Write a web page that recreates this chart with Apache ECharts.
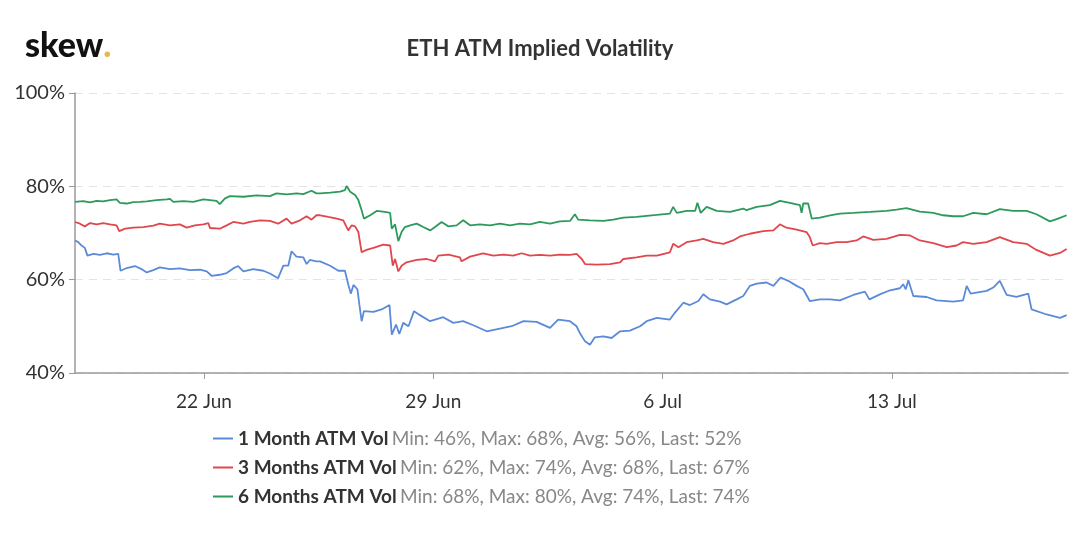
<!DOCTYPE html>
<html>
<head>
<meta charset="utf-8">
<script src="https://cdn.jsdelivr.net/npm/echarts@6/dist/echarts.min.js"></script>
<style>
html,body{margin:0;padding:0;background:#fff;}
#chart{width:1080px;height:543px;}
</style>
</head>
<body>
<div id="chart"></div>
<script>
// Start of the plotted window (UTC); x values are days since this moment
const startDate = '2020-06-18T01:30:00Z';
const endDate = '2020-07-18T09:00:00Z';
const tickDates = ['2020-06-22T00:00:00Z', '2020-06-29T00:00:00Z', '2020-07-06T00:00:00Z', '2020-07-13T00:00:00Z'];
const tickLabels = ['22 Jun', '29 Jun', '6 Jul', '13 Jul'];
const yTicks = [40, 60, 80, 100];

const seriesNames = ['1 Month ATM Vol', '3 Months ATM Vol', '6 Months ATM Vol'];
const seriesStats = [
  'Min: 46%, Max: 68%, Avg: 56%, Last: 52%',
  'Min: 62%, Max: 74%, Avg: 68%, Last: 67%',
  'Min: 68%, Max: 80%, Avg: 74%, Last: 74%'
];

// [days since start, vol %]
const vol1m = [
  [0.00,68.40],[0.10,68.04],[0.20,67.32],[0.30,66.81],[0.38,65.15],[0.56,65.51],[0.76,65.30],[0.97,65.66],[1.17,65.37],[1.32,65.51],
  [1.39,61.91],[1.58,62.49],[1.83,62.92],[2.03,62.27],[2.19,61.55],[2.39,62.05],[2.59,62.63],[2.90,62.27],[3.20,62.41],[3.51,62.05],
  [3.82,62.13],[4.02,61.77],[4.17,60.83],[4.42,61.05],[4.63,61.41],[4.83,62.41],[4.98,62.92],[5.14,61.77],[5.44,62.27],[5.75,61.91],
  [5.95,61.33],[6.20,60.32],[6.36,62.99],[6.51,62.99],[6.61,66.09],[6.76,64.94],[6.97,64.79],[7.07,63.35],[7.17,64.22],[7.37,63.93],
  [7.48,63.93],[7.79,62.99],[8.04,61.91],[8.24,61.91],[8.34,59.03],[8.42,57.01],[8.50,58.88],[8.62,57.95],[8.68,54.70],[8.75,51.10],
  [8.82,53.26],[9.11,53.12],[9.36,53.62],[9.60,54.56],[9.67,48.22],[9.80,50.38],[9.90,48.36],[10.02,50.74],[10.18,50.02],[10.35,53.26],
  [10.53,52.40],[10.84,51.10],[11.24,51.96],[11.55,50.74],[11.85,51.10],[12.16,50.23],[12.57,48.94],[12.97,49.51],[13.33,50.02],[13.69,51.10],
  [14.09,50.95],[14.50,49.66],[14.75,51.46],[15.11,51.10],[15.31,50.02],[15.41,48.58],[15.57,46.78],[15.72,46.05],[15.87,47.64],[16.13,47.86],
  [16.38,47.50],[16.64,48.94],[16.94,49.08],[17.25,50.02],[17.45,51.10],[17.76,51.82],[18.16,51.46],[18.31,52.90],[18.57,55.06],[18.77,54.56],
  [19.03,55.42],[19.18,56.86],[19.38,55.78],[19.69,55.28],[19.89,54.70],[20.20,55.78],[20.40,56.50],[20.60,58.67],[20.81,59.17],[21.11,59.39],
  [21.32,58.67],[21.54,60.47],[21.77,59.75],[22.03,58.67],[22.23,57.95],[22.43,55.42],[22.74,55.78],[23.05,55.78],[23.35,55.57],[23.76,56.72],
  [24.11,57.44],[24.25,55.78],[24.57,56.86],[24.88,57.73],[25.18,58.16],[25.28,59.03],[25.36,57.95],[25.44,59.89],[25.59,56.50],[26.00,56.29],
  [26.30,55.57],[26.81,55.28],[27.11,55.57],[27.22,58.67],[27.34,57.01],[27.83,57.59],[28.03,58.31],[28.23,59.75],[28.44,56.72],[28.74,56.29],
  [29.10,57.01],[29.20,53.62],[29.66,52.54],[30.07,51.82],[30.27,52.40]
];

const vol3m = [
  [0.00,72.36],[0.15,72.00],[0.30,71.42],[0.46,72.14],[0.66,71.86],[0.86,72.14],[1.07,71.86],[1.27,71.64],[1.35,70.42],[1.53,70.92],
  [1.78,71.14],[2.09,71.28],[2.39,71.57],[2.59,72.00],[2.90,71.64],[3.20,71.86],[3.41,71.14],[3.66,71.64],[3.92,71.86],[4.07,72.14],
  [4.12,71.07],[4.42,70.92],[4.63,71.64],[4.83,72.36],[5.14,72.00],[5.34,72.36],[5.65,72.72],[5.95,72.58],[6.20,72.00],[6.46,73.08],
  [6.61,72.00],[6.87,72.72],[7.07,73.59],[7.22,72.86],[7.37,73.80],[7.48,73.80],[7.73,73.44],[7.99,73.08],[8.19,72.72],[8.34,70.56],
  [8.45,71.64],[8.55,71.42],[8.65,70.20],[8.75,65.87],[8.90,66.38],[9.11,66.81],[9.41,67.53],[9.62,67.32],[9.70,62.99],[9.77,64.43],
  [9.87,61.77],[9.97,62.99],[10.12,63.71],[10.43,64.22],[10.74,64.43],[10.99,63.93],[11.09,65.15],[11.40,65.37],[11.75,64.79],[11.80,63.93],
  [12.06,64.94],[12.46,65.66],[12.77,65.15],[13.08,65.37],[13.38,65.15],[13.63,65.66],[13.89,65.15],[14.19,65.30],[14.50,65.15],[14.80,65.37],
  [15.11,65.30],[15.31,65.51],[15.47,64.43],[15.57,63.35],[15.92,63.21],[16.33,63.35],[16.64,63.71],[16.74,64.43],[17.14,64.79],[17.45,65.15],
  [17.76,65.15],[18.16,65.87],[18.26,67.68],[18.42,66.95],[18.67,68.04],[18.98,68.40],[19.18,68.76],[19.48,68.04],[19.79,67.68],[20.09,68.40],
  [20.30,69.26],[20.60,69.84],[21.01,70.41],[21.32,70.56],[21.52,71.86],[21.72,71.14],[22.03,70.70],[22.33,70.20],[22.43,69.12],[22.52,67.32],
  [22.74,67.82],[22.94,67.68],[23.25,68.04],[23.55,68.04],[23.86,68.40],[24.06,69.26],[24.37,68.54],[24.77,68.76],[25.18,69.62],[25.49,69.48],
  [25.79,68.40],[26.20,67.82],[26.61,66.95],[26.91,67.32],[27.11,68.04],[27.42,67.68],[27.83,68.04],[28.23,69.12],[28.64,68.04],[29.05,67.68],
  [29.35,66.38],[29.76,65.15],[30.07,65.73],[30.27,66.59]
];

const vol6m = [
  [0.00,76.68],[0.25,76.83],[0.46,76.54],[0.66,76.90],[0.86,76.76],[1.07,77.05],[1.27,77.19],[1.37,76.47],[1.58,76.32],[1.78,76.61],
  [1.98,76.68],[2.19,76.76],[2.49,77.05],[2.80,77.19],[2.90,77.33],[3.00,76.68],[3.31,76.83],[3.61,76.68],[3.92,77.19],[4.12,77.05],
  [4.32,76.90],[4.42,76.18],[4.58,77.41],[4.73,77.91],[5.14,77.77],[5.54,78.05],[5.95,77.91],[6.15,78.49],[6.46,78.27],[6.76,78.49],
  [6.97,78.34],[7.22,79.06],[7.37,78.49],[7.48,78.49],[7.79,78.63],[8.09,78.85],[8.24,79.20],[8.29,80.07],[8.40,78.85],[8.55,78.13],
  [8.65,77.05],[8.75,74.88],[8.82,73.08],[9.01,73.80],[9.21,74.74],[9.46,74.52],[9.62,74.31],[9.67,70.92],[9.77,71.86],[9.87,68.25],
  [9.97,70.20],[10.07,71.28],[10.23,71.64],[10.43,72.00],[10.63,71.28],[10.84,70.56],[10.99,71.28],[11.19,72.36],[11.40,71.42],[11.65,71.64],
  [11.85,72.72],[12.06,71.64],[12.36,71.86],[12.67,71.64],[12.97,72.00],[13.28,71.64],[13.58,72.00],[13.89,71.86],[14.19,72.36],[14.50,72.00],
  [14.80,72.50],[15.11,72.58],[15.26,74.02],[15.36,72.86],[15.72,72.72],[16.13,72.58],[16.43,72.86],[16.74,73.30],[17.14,73.44],[17.45,73.66],
  [17.76,73.87],[18.16,74.16],[18.26,75.60],[18.37,74.31],[18.67,74.74],[18.93,74.74],[19.00,76.47],[19.10,74.31],[19.28,75.60],[19.59,74.74],
  [20.00,74.52],[20.40,75.24],[20.50,74.88],[20.81,75.60],[21.21,75.96],[21.52,76.90],[21.82,76.47],[22.13,75.96],[22.18,74.31],[22.23,76.32],
  [22.38,76.32],[22.49,73.08],[22.74,73.30],[23.05,73.80],[23.35,74.16],[23.76,74.31],[24.27,74.52],[24.77,74.74],[25.08,75.03],[25.38,75.32],
  [25.79,74.59],[26.20,74.31],[26.50,73.80],[26.81,73.59],[27.11,73.59],[27.42,74.31],[27.83,74.02],[28.23,75.10],[28.64,74.74],[29.05,74.74],
  [29.35,74.02],[29.76,72.50],[30.01,73.08],[30.27,73.80]
];

const colors = ['#5b8ad9', '#e0474c', '#2c9a5c'];

const DAY = 86400000;
const t0 = Date.parse(startDate);
const xMax = (Date.parse(endDate) - t0) / DAY;
const tickDays = tickDates.map(d => (Date.parse(d) - t0) / DAY);

const chart = echarts.init(document.getElementById('chart'), null, {renderer: 'canvas'});
const dataSets = [vol1m, vol3m, vol6m];

chart.setOption({
  animation: false,
  backgroundColor: '#ffffff',
  title: {
    text: 'ETH ATM Implied Volatility',
    left: 'center',
    top: 33,
    textStyle: {fontFamily: 'Lato', fontSize: 22, fontWeight: 'bold', color: '#333333'}
  },
  graphic: [{
    type: 'text',
    left: 25,
    top: 29,
    style: {
      text: '{a|skew}{b|.}',
      rich: {
        a: {fontFamily: 'Lato', fontSize: 34, fontWeight: 900, fill: '#111111'},
        b: {fontFamily: 'Lato', fontSize: 34, fontWeight: 900, fill: '#e8b64a'}
      }
    }
  }],
  grid: {left: 75, right: 12, top: 93, bottom: 170},
  xAxis: {
    type: 'value',
    min: 0,
    max: xMax,
    axisLine: {show: true, lineStyle: {color: '#9a9a9a', width: 1.5}},
    axisTick: {show: true, customValues: tickDays, length: 6, lineStyle: {color: '#9a9a9a'}},
    axisLabel: {
      customValues: tickDays,
      margin: 19,
      fontFamily: 'Lato',
      fontSize: 19,
      color: '#333333',
      formatter: v => {
        let best = -1, bd = 1e9;
        tickDays.forEach((t, i) => { const dd = Math.abs(t - v); if (dd < bd) { bd = dd; best = i; } });
        return bd < 0.01 ? tickLabels[best] : '';
      }
    },
    splitLine: {show: false}
  },
  yAxis: {
    type: 'value',
    min: 40,
    max: 100,
    interval: 20,
    axisLine: {show: true, lineStyle: {color: '#9a9a9a', width: 1.5}},
    axisTick: {show: true, length: 6, lineStyle: {color: '#9a9a9a'}},
    axisLabel: {
      margin: 10,
      fontFamily: 'Lato',
      fontSize: 20,
      color: '#333333',
      formatter: v => (yTicks.indexOf(v) >= 0 ? v + '%' : '')
    },
    splitLine: {show: true, lineStyle: {color: '#e3e3e3', type: [8, 6], width: 1}}
  },
  legend: {
    orient: 'vertical',
    left: 208,
    top: 424,
    itemGap: 10,
    icon: 'rect',
    itemWidth: 20,
    itemHeight: 2,
    data: seriesNames,
    formatter: name => {
      const i = seriesNames.indexOf(name);
      return '{n|' + name + '} {s|' + seriesStats[i] + '}';
    },
    textStyle: {
      rich: {
        n: {fontFamily: 'Lato', fontSize: 19, fontWeight: 'bold', color: '#333333', lineHeight: 21},
        s: {fontFamily: 'Lato', fontSize: 19, color: '#888888', lineHeight: 21}
      }
    }
  },
  series: seriesNames.map((name, i) => ({
    name: name,
    type: 'line',
    data: dataSets[i],
    showSymbol: false,
    symbol: 'none',
    lineStyle: {width: 1.8, color: colors[i]},
    itemStyle: {color: colors[i]},
    z: 3 - i
  }))
});
</script>
</body>
</html>
